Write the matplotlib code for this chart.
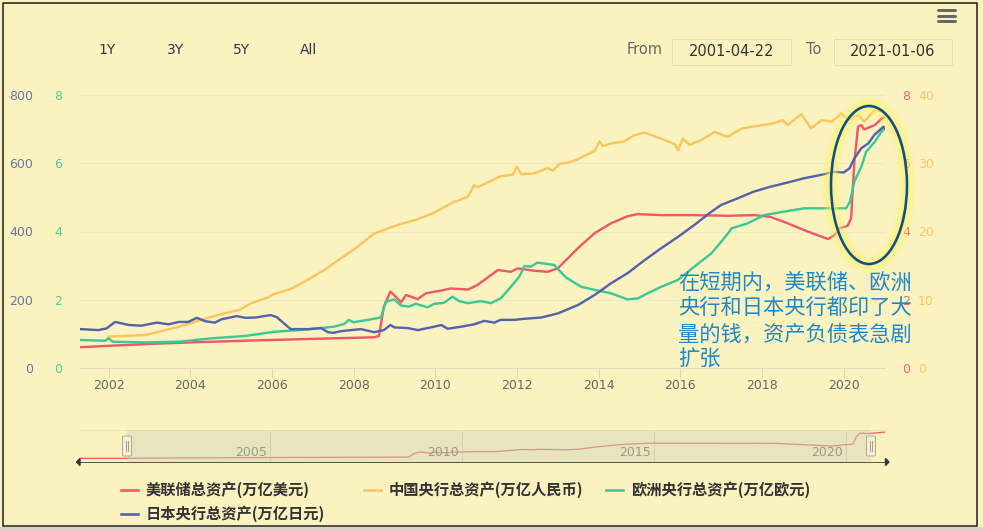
import matplotlib
matplotlib.use('Agg')
import matplotlib.pyplot as plt
from matplotlib.patches import Ellipse, Rectangle, FancyBboxPatch, Polygon
from matplotlib.lines import Line2D

W, H = 983, 530
BG = '#faf3c0'
CJK = ['Noto Sans CJK SC', 'DejaVu Sans']

# ---------------- data ----------------
series_names = ['美联储总资产(万亿美元)', '中国央行总资产(万亿人民币)',
                '欧洲央行总资产(万亿欧元)', '日本央行总资产(万亿日元)']
series_colors = ['#f05868', '#fcc45c', '#3cc896', '#5462ac']

fed_t = [2000.05, 2000.5, 2001.0, 2001.31, 2002.0, 2002.9, 2004.0, 2005.35, 2006.87, 2008.5, 2008.62,
         2008.74, 2008.9, 2009.03, 2009.16, 2009.28, 2009.57, 2009.77, 2010.14, 2010.38, 2010.8, 2011.03,
         2011.53, 2011.85, 2012.02, 2012.42, 2012.75, 2013.0, 2013.08, 2013.49, 2013.9, 2014.3, 2014.71,
         2014.96, 2015.53, 2016.34, 2017.17, 2017.8, 2018.2, 2018.63, 2019.03, 2019.45, 2019.62, 2019.78,
         2019.9, 2020.1, 2020.18, 2020.26, 2020.35, 2020.43, 2020.5, 2020.76, 2020.92, 2021.0]
fed_v = [0.58, 0.59, 0.60, 0.61, 0.65, 0.70, 0.75, 0.80, 0.85, 0.90, 0.94,
         1.80, 2.24, 2.09, 1.92, 2.14, 2.02, 2.19, 2.27, 2.33, 2.30, 2.43,
         2.87, 2.82, 2.92, 2.85, 2.82, 2.92, 3.02, 3.51, 3.95, 4.24, 4.45,
         4.51, 4.48, 4.48, 4.46, 4.48, 4.43, 4.24, 4.04, 3.85, 3.78, 3.90,
         4.09, 4.17, 4.39, 6.05, 7.07, 7.12, 6.99, 7.12, 7.30, 7.36]

cn_t = [2002.0, 2002.9, 2003.72, 2004.53, 2005.0, 2005.2, 2005.48, 2005.89, 2006.05, 2006.46, 2006.87,
        2007.28, 2007.69, 2008.1, 2008.5, 2008.91, 2009.16, 2009.57, 2009.97, 2010.38, 2010.8, 2010.95,
        2011.04, 2011.6, 2011.89, 2012.0, 2012.1, 2012.42, 2012.75, 2012.87, 2013.04, 2013.32, 2013.49,
        2013.9, 2014.02, 2014.1, 2014.3, 2014.63, 2014.87, 2015.12, 2015.53, 2015.86, 2015.94, 2016.06,
        2016.22, 2016.51, 2016.84, 2017.08, 2017.17, 2017.5, 2017.82, 2018.23, 2018.51, 2018.63, 2018.96,
        2019.2, 2019.45, 2019.7, 2019.95, 2020.1, 2020.35, 2020.5, 2020.76, 2021.0]
cn_v = [4.6, 4.83, 6.05, 7.52, 8.25, 8.5, 9.47, 10.3, 10.84, 11.57, 12.9,
        14.36, 16.07, 17.77, 19.7, 20.6, 21.1, 21.8, 22.76, 24.1, 25.1, 26.8,
        26.5, 28.1, 28.3, 29.5, 28.4, 28.5, 29.3, 28.9, 29.9, 30.2, 30.6,
        31.8, 33.2, 32.5, 32.9, 33.2, 34.1, 34.5, 33.6, 32.8, 31.9, 33.6,
        32.7, 33.4, 34.6, 34.0, 33.9, 35.1, 35.4, 35.8, 36.3, 35.6, 37.2,
        35.1, 36.3, 36.1, 37.3, 36.3, 37.1, 36.1, 37.8, 37.6]

ecb_t = [2001.31, 2001.6, 2001.92, 2002.0, 2002.1, 2002.9, 2003.72, 2004.53, 2005.35, 2006.05, 2006.87,
         2007.52, 2007.77, 2007.88, 2008.0, 2008.34, 2008.58, 2008.67, 2008.79, 2008.99, 2009.16, 2009.35,
         2009.52, 2009.81, 2009.97, 2010.21, 2010.42, 2010.58, 2010.8, 2011.12, 2011.36, 2011.6, 2011.85,
         2012.06, 2012.18, 2012.34, 2012.5, 2012.91, 2013.08, 2013.2, 2013.57, 2013.9, 2014.3, 2014.71,
         2014.96, 2015.2, 2015.53, 2015.94, 2016.34, 2016.76, 2017.0, 2017.17, 2017.25, 2017.65, 2018.05,
         2018.63, 2019.03, 2019.45, 2020.06, 2020.15, 2020.26, 2020.43, 2020.55, 2020.76, 2020.92, 2021.0]
ecb_v = [0.82, 0.81, 0.80, 0.87, 0.77, 0.75, 0.77, 0.87, 0.94, 1.06, 1.13,
         1.21, 1.29, 1.41, 1.34, 1.41, 1.46, 1.49, 1.94, 2.01, 1.83, 1.80,
         1.88, 1.78, 1.88, 1.91, 2.09, 1.96, 1.90, 1.96, 1.90, 2.04, 2.38,
         2.68, 2.99, 2.97, 3.09, 3.02, 2.80, 2.65, 2.38, 2.29, 2.19, 2.01,
         2.04, 2.19, 2.38, 2.58, 2.97, 3.36, 3.70, 3.95, 4.09, 4.24, 4.48,
         4.60, 4.68, 4.68, 4.68, 4.87, 5.46, 5.90, 6.34, 6.63, 6.92, 7.02]

jp_t = [2001.31, 2001.75, 2001.95, 2002.16, 2002.5, 2002.8, 2003.18, 2003.47, 2003.72, 2003.95, 2004.16,
        2004.37, 2004.6, 2004.77, 2005.14, 2005.35, 2005.6, 2005.97, 2006.12, 2006.3, 2006.46, 2006.9,
        2007.2, 2007.37, 2007.5, 2007.7, 2007.93, 2008.18, 2008.5, 2008.74, 2008.9, 2009.0, 2009.33,
        2009.57, 2009.97, 2010.15, 2010.3, 2010.63, 2010.95, 2011.2, 2011.44, 2011.6, 2011.93, 2012.17,
        2012.6, 2013.0, 2013.3, 2013.5, 2013.9, 2014.3, 2014.72, 2015.1, 2015.53, 2015.95, 2016.34,
        2016.76, 2017.0, 2017.4, 2017.8, 2018.2, 2018.64, 2019.03, 2019.45, 2019.77, 2020.0, 2020.14,
        2020.26, 2020.43, 2020.6, 2020.75, 2020.97, 2021.0]
jp_v = [114, 111, 116, 135, 126, 124, 133, 128, 135, 135, 147,
        137, 133, 143, 152, 147, 148, 155, 149, 130, 114, 114,
        117, 105, 103, 108, 111, 114, 105, 111, 126, 119, 117,
        111, 121, 126, 115, 121, 128, 138, 133, 141, 141, 144,
        148, 160, 175, 185, 214, 248, 279, 314, 351, 385, 419,
        458, 478, 497, 517, 531, 544, 556, 566, 575, 573, 585,
        614, 644, 658, 683, 707, 703]

x_ticks = [2002, 2004, 2006, 2008, 2010, 2012, 2014, 2016, 2018, 2020]
fed_ticks = [0, 2, 4, 6, 8]
cn_ticks = [0, 10, 20, 30, 40]
ecb_ticks = [0, 2, 4, 6, 8]
jp_ticks = [0, 200, 400, 600, 800]
nav_ticks = [2005, 2010, 2015, 2020]
range_buttons = ['1Y', '3Y', '5Y', 'All']
date_from, date_to = '2001-04-22', '2021-01-06'
note_lines = ['在短期内，美联储、欧洲', '央行和日本央行都印了大', '量的钱，资产负债表急剧', '扩张']

# ---------------- figure ----------------
fig = plt.figure(figsize=(W / 100, H / 100), dpi=100, facecolor=BG)
PX = 0.72  # points per pixel


def fx(px):
    return px / W


def fy(py):
    return 1 - py / H


L, R, T, B = 80, 885, 95, 368
ax = fig.add_axes([fx(L), fy(B), (R - L) / W, (B - T) / H])
ax.set_facecolor(BG)
ax_cn = ax.twinx()
ax_ecb = ax.twinx()
ax_jp = ax.twinx()

XMIN, XMAX = 2001.30, 2021.01
lw = 2.4 * PX
ax.plot(fed_t, fed_v, color=series_colors[0], lw=lw, solid_joinstyle='round')
ax_cn.plot(cn_t, cn_v, color=series_colors[1], lw=lw, solid_joinstyle='round')
ax_ecb.plot(ecb_t, ecb_v, color=series_colors[2], lw=lw, solid_joinstyle='round')
ax_jp.plot(jp_t, jp_v, color=series_colors[3], lw=lw, solid_joinstyle='round')

ax.set_xlim(XMIN, XMAX)
ax.set_ylim(0, 8)
ax_cn.set_ylim(0, 40)
ax_ecb.set_ylim(0, 8)
ax_jp.set_ylim(0, 800)

for a in (ax, ax_cn, ax_ecb, ax_jp):
    for s in a.spines.values():
        s.set_visible(False)

ax.spines['bottom'].set_visible(True)
ax.spines['bottom'].set_color('#e2dbb8')
ax.spines['bottom'].set_linewidth(1 * PX)

ax.set_yticks(fed_ticks)
ax.yaxis.tick_right()
ax.tick_params(axis='y', length=0, pad=17 * PX, labelcolor='#f06474', labelsize=9)
ax.yaxis.grid(True, color='#efe8c4', lw=1 * PX)
ax.set_axisbelow(True)

ax_cn.set_yticks(cn_ticks)
ax_cn.tick_params(axis='y', length=0, pad=33 * PX, labelcolor='#fdc566', labelsize=9)

ax_ecb.set_yticks(ecb_ticks)
ax_ecb.yaxis.tick_left()
ax_ecb.tick_params(axis='y', length=0, pad=18 * PX, labelcolor='#4ccf9c', labelsize=9)

ax_jp.set_yticks(jp_ticks)
ax_jp.yaxis.tick_left()
ax_jp.tick_params(axis='y', length=0, pad=47 * PX, labelcolor='#6e73a8', labelsize=9)

ax.set_xticks(x_ticks)
ax.set_xticklabels([str(t) for t in x_ticks])
ax.tick_params(axis='x', length=10 * PX, width=1 * PX, color='#ddd6b4',
               labelcolor='#666666', labelsize=9, pad=1)

# ---------------- navigator ----------------
NT, NB = 430, 462
nav = fig.add_axes([fx(L), fy(NB), (R - L) / W, (NB - NT) / H])
nav.set_facecolor(BG)
nav.set_xlim(2000.05, 2021.01)
nav.set_ylim(-0.36, 7.91)
nav.plot(fed_t, fed_v, color='#ee5f70', lw=1.3 * PX)
nav.axvspan(2001.27, 2020.65, color='#cfd4ba', alpha=0.45, lw=0, zorder=3)
nav.set_xticks(nav_ticks)
nav.set_xticklabels([])
nav.set_yticks([])
nav.tick_params(axis='x', length=0)
nav.xaxis.grid(True, color='#d9d5ae', lw=1 * PX)
for s in nav.spines.values():
    s.set_visible(False)
nav.spines['top'].set_visible(True)
nav.spines['top'].set_color('#ebe4bd')
nav.spines['top'].set_linewidth(1 * PX)
nav.spines['bottom'].set_visible(True)
nav.spines['bottom'].set_color('#444444')
nav.spines['bottom'].set_linewidth(0.9 * PX)
for t in nav_ticks:
    nav.annotate(str(t), xy=(t, 0.31), xycoords=('data', 'axes fraction'),
                 xytext=(-3 * PX, 0), textcoords='offset points',
                 ha='right', va='center', color='#9a9a8c', fontsize=9, zorder=4)

# navigator handles
for hx in (127, 871):
    fig.add_artist(FancyBboxPatch((fx(hx - 4.5), fy(456)), 9 / W, 20 / H,
                                  boxstyle='round,pad=0,rounding_size=0.002',
                                  transform=fig.transFigure, facecolor='#f4efd6',
                                  edgecolor='#a9a58c', lw=0.9 * PX, zorder=6))
    for dx in (-1.2, 1.2):
        fig.add_artist(Line2D([fx(hx + dx), fx(hx + dx)], [fy(441), fy(451)],
                              transform=fig.transFigure, color='#8f8b76', lw=0.8 * PX, zorder=7))
# scrollbar arrows
fig.add_artist(Polygon([[fx(76.5), fy(462)], [fx(80), fy(458.5)], [fx(80), fy(465.5)]],
                       closed=True, transform=fig.transFigure, color='#333344', zorder=6))
fig.add_artist(Polygon([[fx(889), fy(462)], [fx(885.5), fy(458.5)], [fx(885.5), fy(465.5)]],
                       closed=True, transform=fig.transFigure, color='#333344', zorder=6))

# ---------------- top controls ----------------
for lbl, cx in zip(range_buttons, [107.5, 175, 242, 309]):
    fig.text(fx(cx), fy(50), lbl, ha='center', va='center', fontsize=10, color='#333344')
fig.text(fx(645), fy(50), 'From', ha='center', va='center', fontsize=10.5, color='#666666')
fig.text(fx(814), fy(50), 'To', ha='center', va='center', fontsize=10.5, color='#666666')
for (x0, x1), txt in zip([(672, 791), (834, 952)], [date_from, date_to]):
    fig.add_artist(Rectangle((fx(x0), fy(65)), (x1 - x0) / W, 26 / H, transform=fig.transFigure,
                             facecolor='none', edgecolor='#e6dfb2', lw=1 * PX))
    fig.text(fx((x0 + x1) / 2), fy(51), txt, ha='center', va='center', fontsize=10.5, color='#333333')
# menu icon
for yy in (10, 15.5, 21):
    fig.add_artist(Line2D([fx(938), fx(955)], [fy(yy), fy(yy)], transform=fig.transFigure,
                          color='#666666', lw=3 * PX, solid_capstyle='round'))

# ---------------- annotation ----------------
cxe, cye, we, he = 869, 185, 76, 158
for glw, ga in ((18, 0.18), (13, 0.25), (8, 0.35)):
    fig.add_artist(Ellipse((fx(cxe), fy(cye)), we / W, he / H, transform=fig.transFigure,
                           facecolor='none', edgecolor='#fff266', lw=glw * PX, alpha=ga, zorder=8))
fig.add_artist(Ellipse((fx(cxe), fy(cye)), we / W, he / H, transform=fig.transFigure,
                       facecolor='none', edgecolor='#0d4f8b', lw=2.6 * PX, zorder=9))
for i, line in enumerate(note_lines):
    fig.text(fx(678), fy(283 + i * 25.7), line, ha='left', va='center', fontsize=15.3,
             color='#1f88c8', family=CJK, zorder=10)

# ---------------- legend ----------------
legend_pos = [(121, 490), (364, 490), (606, 490), (121, 514)]
for name, col, (lx, ly) in zip(series_names, series_colors, legend_pos):
    fig.add_artist(Line2D([fx(lx), fx(lx + 17)], [fy(ly), fy(ly)], transform=fig.transFigure,
                          color=col, lw=2.6 * PX))
    fig.text(fx(lx + 25), fy(ly), name, ha='left', va='center', fontsize=11,
             fontweight='bold', color='#333333', family=CJK)

# ---------------- frame ----------------
fig.add_artist(Rectangle((0, 0), 1, 3 / H, transform=fig.transFigure, facecolor='#d2d2d2',
                         edgecolor='none', zorder=0))
fig.add_artist(Rectangle((fx(3), fy(526)), 974 / W, 523 / H, transform=fig.transFigure,
                         facecolor='none', edgecolor='#1a1a1a', lw=1.5 * PX, zorder=20))

fig.savefig('out.png', dpi=100, facecolor=BG)
